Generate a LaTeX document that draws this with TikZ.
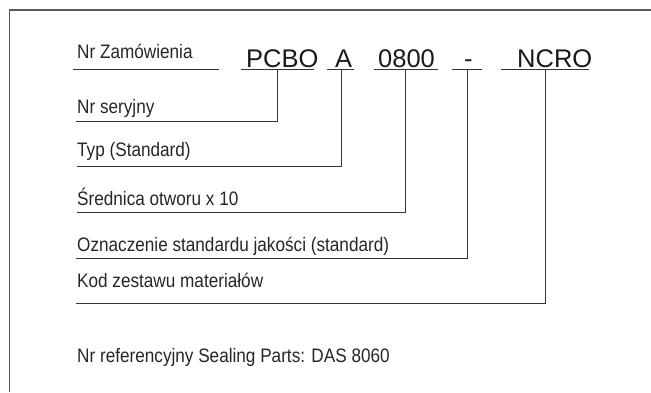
\documentclass[tikz,border=0pt]{standalone}
\usepackage{fontspec}
\setmainfont{Liberation Sans}
\newfontfamily\narrowsans{Liberation Sans}[FakeStretch=0.88]
\begin{document}
\begin{tikzpicture}[x=1bp,y=-1bp,
  lbl/.style={anchor=base west,inner sep=0pt,font=\narrowsans\fontsize{19.5bp}{22bp}\selectfont,text=black!85},
  code/.style={anchor=base west,inner sep=0pt,font=\fontsize{25.5bp}{30bp}\selectfont,text=black!90},
  ln/.style={draw=black!80,line width=1bp},
  frm/.style={draw=black!65,line width=1.3bp}]
\useasboundingbox (0,0) rectangle (651,392);
% frame (only top and left edges are visible)
\draw[frm] (9.5,392) -- (9.5,10) -- (651,10);
% order code
\node[lbl] (nrz) at (77,58) {Nr Zamówienia};
\node[code] (pcbo) at (246,67) {PCBO};
\node[code] (a) at (335,67) {A};
\node[code] (d) at (378,67) {0800};
\node[code] (q) at (464,67) {-};
\node[code] (ncro) at (517,67) {NCRO};
% underlines
\coordinate (u0a) at (73,69.5);   \coordinate (u0b) at (219,69.5);
\coordinate (u1a) at (241,69.5);  \coordinate (u1b) at (314,69.5);
\coordinate (u2a) at (327,69.5);  \coordinate (u2b) at (354,69.5);
\coordinate (u3a) at (374,69.5);  \coordinate (u3b) at (438,69.5);
\coordinate (u4a) at (452,69.5);  \coordinate (u4b) at (482,69.5);
\coordinate (u5a) at (501,69.5);  \coordinate (u5b) at (589,69.5);
\draw[ln] (u0a) -- (u0b);
\draw[ln] (u1a) -- (u1b);
\draw[ln] (u2a) -- (u2b);
\draw[ln] (u3a) -- (u3b);
\draw[ln] (u4a) -- (u4b);
\draw[ln] (u5a) -- (u5b);
% taps
\coordinate (t1) at (277,69.5);
\coordinate (t2) at (341,69.5);
\coordinate (t3) at (405,69.5);
\coordinate (t4) at (467,69.5);
\coordinate (t5) at (545,69.5);
% labels
\node[lbl] (l1) at (77,113.5) {Nr seryjny};
\node[lbl] (l2) at (77,156) {Typ (Standard)};
\node[lbl] (l3) at (77,205.5) {Średnica otworu x 10};
\node[lbl] (l4) at (77,251) {Oznaczenie standardu jakości (standard)};
\node[lbl] (l5) at (77,287) {Kod zestawu materiałów};
\node[lbl] (ref) at (77,362) {Nr referencyjny Sealing Parts: DAS 8060};
% leader lines
\coordinate (s1) at (76,121);
\coordinate (s2) at (77,166);
\coordinate (s3) at (77,212);
\coordinate (s4) at (76,258);
\coordinate (s5) at (76,303);
\draw[ln] (s1) -- (s1 -| t1) -- (t1);
\draw[ln] (s2) -- (s2 -| t2) -- (t2);
\draw[ln] (s3) -- (s3 -| t3) -- (t3);
\draw[ln] (s4) -- (s4 -| t4) -- (t4);
\draw[ln] (s5) -- (s5 -| t5) -- (t5);
\end{tikzpicture}
\end{document}
